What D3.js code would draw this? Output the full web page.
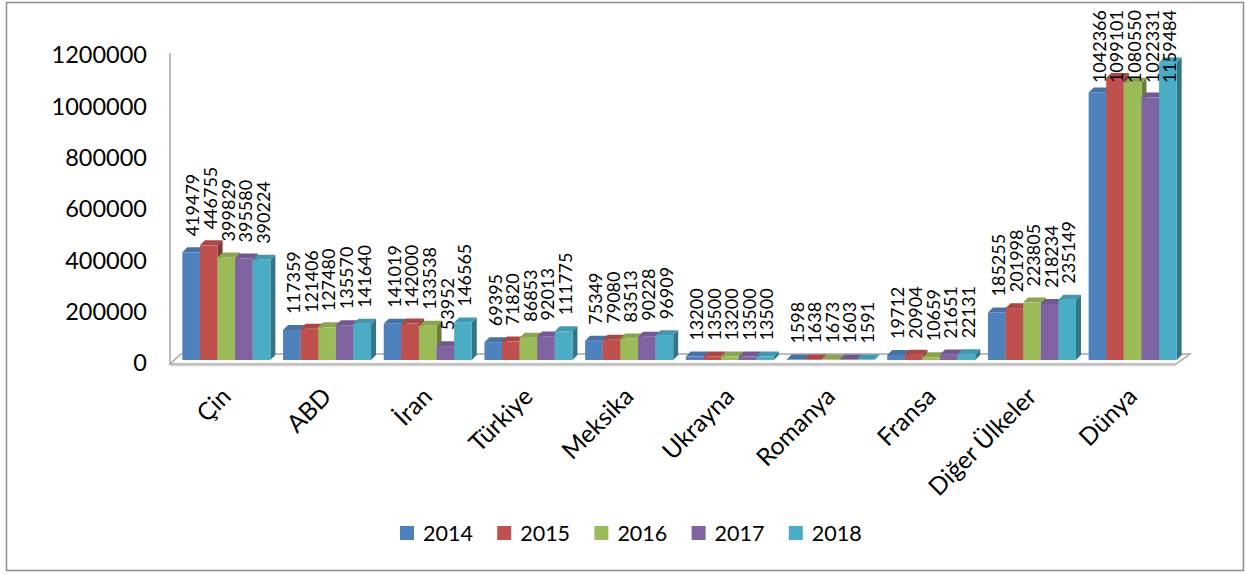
<!DOCTYPE html>
<html>
<head>
<meta charset="utf-8">
<script src="https://cdnjs.cloudflare.com/ajax/libs/d3/7.8.5/d3.min.js"></script>
<style>
	html, body { margin: 0; padding: 0; background: #fff; }
	svg text { font-family: Lato, "Open Sans", sans-serif; fill: #000; }
</style>
</head>
<body>
<svg id="chart" width="1247" height="574"></svg>
<script>
// data
var categories = ['Çin', 'ABD', 'İran', 'Türkiye', 'Meksika', 'Ukrayna', 'Romanya', 'Fransa', 'Diğer Ülkeler', 'Dünya'];
var years = ['2014', '2015', '2016', '2017', '2018'];
var v2014 = [419479, 117359, 141019, 69395, 75349, 13200, 1598, 19712, 185255, 1042366];
var v2015 = [446755, 121406, 142000, 71820, 79080, 13500, 1638, 20904, 201998, 1099101];
var v2016 = [399829, 127480, 133538, 86853, 83513, 13200, 1673, 10659, 223805, 1080550];
var v2017 = [395580, 135570, 53952, 92013, 90228, 13500, 1603, 21651, 218234, 1022331];
var v2018 = [390224, 141640, 146565, 111775, 96909, 13500, 1591, 22131, 235149, 1159484];
var yTicks = [0, 200000, 400000, 600000, 800000, 1000000, 1200000];
var colors = ['#4F81BD', '#C0504D', '#9BBB59', '#8064A2', '#4BACC6'];

var series = [v2014, v2015, v2016, v2017, v2018];

var svg = d3.select('#chart');

// outer frame
svg.append('rect')
	.attr('x', 6.5).attr('y', 2.5)
	.attr('width', 1237).attr('height', 568)
	.attr('fill', 'none').attr('stroke', '#8c8c8c').attr('stroke-width', 1.5);

var x0 = d3.scaleBand().domain(categories).range([176, 1183]);
var x1 = d3.scaleBand().domain(years).range([0, x0.bandwidth()]).paddingOuter(0.36);
var y = d3.scaleLinear().domain([0, 1200000]).range([360, 52]);

var dx = 5, dy = 5; // bar depth

// floor + wall edge
svg.append('polygon')
	.attr('points', [[170, 364], [1176, 364], [1190, 354], [181, 354]].join(' '))
	.attr('fill', '#fff').attr('stroke', '#a6a6a6').attr('stroke-width', 1.5);
svg.append('line')
	.attr('x1', 170).attr('x2', 1176).attr('y1', 365.5).attr('y2', 365.5)
	.attr('stroke', '#d0d0d0').attr('stroke-width', 1.5);
svg.append('line')
	.attr('x1', 170).attr('x2', 170).attr('y1', y(1200000) + 1).attr('y2', 364)
	.attr('stroke', '#a6a6a6').attr('stroke-width', 1.5);

// y tick labels
svg.append('g').selectAll('text').data(yTicks).enter().append('text')
	.attr('x', 147)
	.attr('y', (d) => y(d) + 3)
	.attr('dy', '0.35em')
	.attr('text-anchor', 'end')
	.attr('font-size', 23.5)
	.text((d) => d);

// flatten to one record per bar
var bars = [];
categories.forEach((c, ci) => {
	years.forEach((yr, si) => {
		bars.push({ cat: c, year: yr, si: si, value: series[si][ci] });
	});
});

var g = svg.append('g');
bars.forEach((b) => {
	var bx = x0(b.cat) + x1(b.year);
	var w = x1.bandwidth();
	var top = y(b.value), base = y(0);
	var col = d3.color(colors[b.si]);
	var bg = g.append('g');
	bg.append('polygon') // side
		.attr('points', [[bx + w, top], [bx + w + dx, top - dy], [bx + w + dx, base - dy], [bx + w, base]].join(' '))
		.attr('fill', col.darker(1.1));
	bg.append('polygon') // top
		.attr('points', [[bx, top], [bx + dx, top - dy], [bx + w + dx, top - dy], [bx + w, top]].join(' '))
		.attr('fill', col.darker(0.35));
	bg.append('rect') // front
		.attr('x', bx).attr('y', top)
		.attr('width', w).attr('height', base - top)
		.attr('fill', col);
});

// data labels, rotated, kept inside the top of the frame
var labels = svg.append('g').selectAll('text').data(bars).enter().append('text')
	.attr('text-anchor', 'start')
	.attr('dy', '0.35em')
	.attr('font-size', 18)
	.text((d) => d.value);
labels.attr('transform', function(d) {
	var len = this.getComputedTextLength();
	var ly = Math.max(y(d.value) - 16, 10 + len);
	var lx = x0(d.cat) + x1(d.year) + x1.bandwidth() / 2 + 2;
	return 'translate(' + lx + ',' + ly + ') rotate(-90)';
});

// category labels
svg.append('g').selectAll('text').data(categories).enter().append('text')
	.attr('text-anchor', 'end')
	.attr('font-size', 24.5)
	.attr('transform', (d) => 'translate(' + (x0(d) + x0.bandwidth() / 2 + 6) + ',398) rotate(-45)')
	.text((d) => d);

// legend
var legend = svg.append('g').selectAll('g').data(years).enter().append('g')
	.attr('transform', (d, i) => 'translate(' + (400 + i * 97.2) + ',526)');
legend.append('rect')
	.attr('width', 14).attr('height', 14)
	.attr('fill', (d, i) => colors[i]);
legend.append('text')
	.attr('x', 23).attr('y', 7)
	.attr('dy', '0.36em')
	.attr('font-size', 21.5)
	.text((d) => d);
</script>
</body>
</html>
